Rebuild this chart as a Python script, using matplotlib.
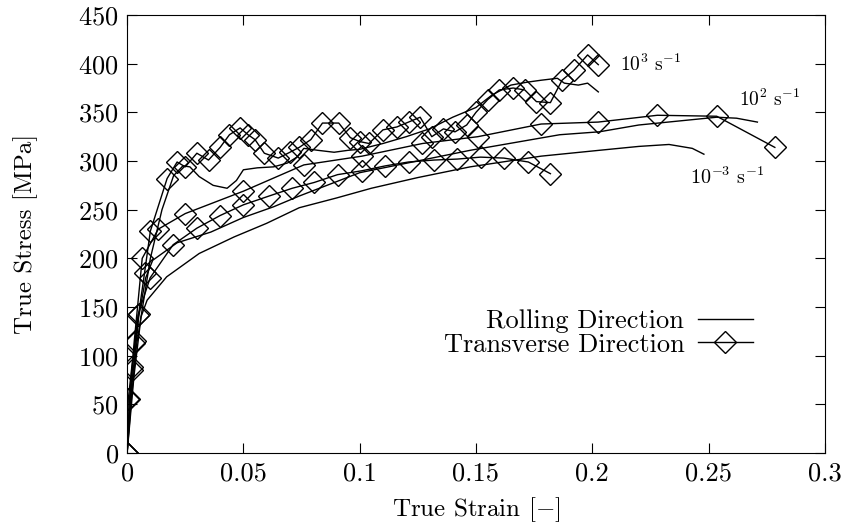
import matplotlib
matplotlib.use("Agg")
import matplotlib.pyplot as plt
from matplotlib.ticker import MultipleLocator, FuncFormatter

plt.rcParams["font.family"] = "serif"
plt.rcParams["font.serif"] = ["cmr10", "DejaVu Serif"]
plt.rcParams["mathtext.fontset"] = "cm"
plt.rcParams["axes.formatter.use_mathtext"] = True

# Rolling direction (lines only)
rd_1e3_strain = [0, 0.003, 0.006, 0.01, 0.015, 0.02, 0.024, 0.027, 0.031, 0.037, 0.043, 0.047,
                 0.05, 0.056, 0.063, 0.069, 0.073, 0.076, 0.082, 0.089, 0.095, 0.1, 0.11, 0.12,
                 0.13, 0.14, 0.15, 0.157, 0.165, 0.172, 0.178, 0.185, 0.188, 0.194, 0.198, 0.2026]
rd_1e3_stress = [0, 80, 140, 200, 250, 285, 295, 294, 284, 275, 272, 280,
                 291, 293, 294, 298, 304, 313, 311, 309, 311, 312, 318, 325,
                 333, 345, 355, 368, 378, 381, 383, 385, 380, 378, 380, 371]

rd_1e2_strain = [0, 0.002, 0.005, 0.008, 0.011, 0.0215, 0.036, 0.05, 0.063, 0.074, 0.1,
                 0.1475, 0.186, 0.203, 0.22, 0.2535, 0.262, 0.271]
rd_1e2_stress = [0, 70, 140, 180, 198, 216, 227, 242, 253, 264, 288,
                 311, 327, 330, 337, 345, 344, 340]

rd_1e3m_strain = [0, 0.002, 0.004, 0.006, 0.0086, 0.017, 0.031, 0.046, 0.06, 0.074, 0.09,
                  0.105, 0.125, 0.1475, 0.178, 0.203, 0.22, 0.233, 0.243, 0.248]
rd_1e3m_stress = [0, 60, 110, 140, 157, 181, 205, 222, 236, 252, 262,
                  272, 283, 294, 305, 311, 315, 317, 313, 307]

# Transverse direction (lines with diamonds)
td_1e3_strain = [0, 0.0005, 0.002, 0.0035, 0.005, 0.0075, 0.01, 0.0172, 0.0215, 0.025, 0.03,
                 0.035, 0.04, 0.044, 0.0486, 0.052, 0.055, 0.059, 0.065, 0.07, 0.074, 0.079,
                 0.084, 0.091, 0.096, 0.1, 0.104, 0.11, 0.116, 0.121, 0.126, 0.131, 0.136,
                 0.141, 0.146, 0.15, 0.155, 0.16, 0.166, 0.171, 0.176, 0.182, 0.187, 0.192,
                 0.198, 0.2026]
td_1e3_stress = [0, 55, 88, 115, 143, 185, 228, 282, 299, 294, 308,
                 301, 314, 327, 334, 327, 322, 308, 303, 309, 314, 322,
                 339, 339, 324, 320, 318, 332, 335, 340, 345, 325, 333,
                 330, 337, 350, 363, 373, 375, 373, 361, 360, 383, 393,
                 409, 399]

td_1e2_strain = [0, 0.001, 0.003, 0.0065, 0.0134, 0.025, 0.05, 0.076, 0.101, 0.127, 0.1508,
                 0.178, 0.2025, 0.228, 0.2535, 0.2785]
td_1e2_stress = [0, 55, 113, 200, 230, 246, 269, 296, 305, 318, 325,
                 338, 340, 347, 346, 314]

td_1e3m_strain = [0, 0.0022, 0.0047, 0.0099, 0.0198, 0.03, 0.04, 0.05, 0.061, 0.071, 0.0805,
                  0.0905, 0.101, 0.111, 0.121, 0.132, 0.142, 0.152, 0.162, 0.1725, 0.182]
td_1e3m_stress = [0, 85, 142, 180, 214, 231, 244, 255, 264, 272, 278,
                  286, 290, 295, 299, 301, 302, 304, 303, 299, 287]

fig = plt.figure(figsize=(8.53, 5.27), dpi=100)
ax = fig.add_axes([0.149, 0.1404, 0.818, 0.8311])

lw = 1.0
ax.plot(rd_1e3_strain, rd_1e3_stress, color="black", lw=lw, label="Rolling Direction")
ax.plot(rd_1e2_strain, rd_1e2_stress, color="black", lw=lw)
ax.plot(rd_1e3m_strain, rd_1e3m_stress, color="black", lw=lw)

mk = dict(color="black", lw=lw, marker="D", ms=11, mfc="none", mec="black", mew=1.0)
ax.plot(td_1e3_strain, td_1e3_stress, label="Transverse Direction", **mk)
ax.plot(td_1e2_strain, td_1e2_stress, **mk)
ax.plot(td_1e3m_strain, td_1e3m_stress, **mk)

ax.set_xlim(0, 0.3)
ax.set_ylim(0, 450)
ax.xaxis.set_major_locator(MultipleLocator(0.05))
ax.yaxis.set_major_locator(MultipleLocator(50))
ax.xaxis.set_major_formatter(FuncFormatter(lambda v, p: "%g" % round(v, 3)))
ax.tick_params(direction="in", top=True, right=True, length=7, width=0.8, labelsize=19, pad=6)
for s in ax.spines.values():
    s.set_linewidth(0.8)

ax.set_xlabel("True Strain [$-$]", fontsize=18, labelpad=7)
ax.set_ylabel("True Stress [MPa]", fontsize=18, labelpad=29)

ax.text(0.212, 399, r"$10^3\ \mathrm{s}^{-1}$", fontsize=14, va="center")
ax.text(0.263, 363, r"$10^2\ \mathrm{s}^{-1}$", fontsize=14, va="center")
ax.text(0.242, 283, r"$10^{-3}\ \mathrm{s}^{-1}$", fontsize=14.5, va="center")

ax.legend(loc="center right", bbox_to_anchor=(0.897, 0.274), frameon=False, markerfirst=False,
          fontsize=19, handlelength=2.1, handletextpad=0.5, labelspacing=0.0,
          borderaxespad=0, borderpad=0)

fig.savefig("out.png", dpi=100)
